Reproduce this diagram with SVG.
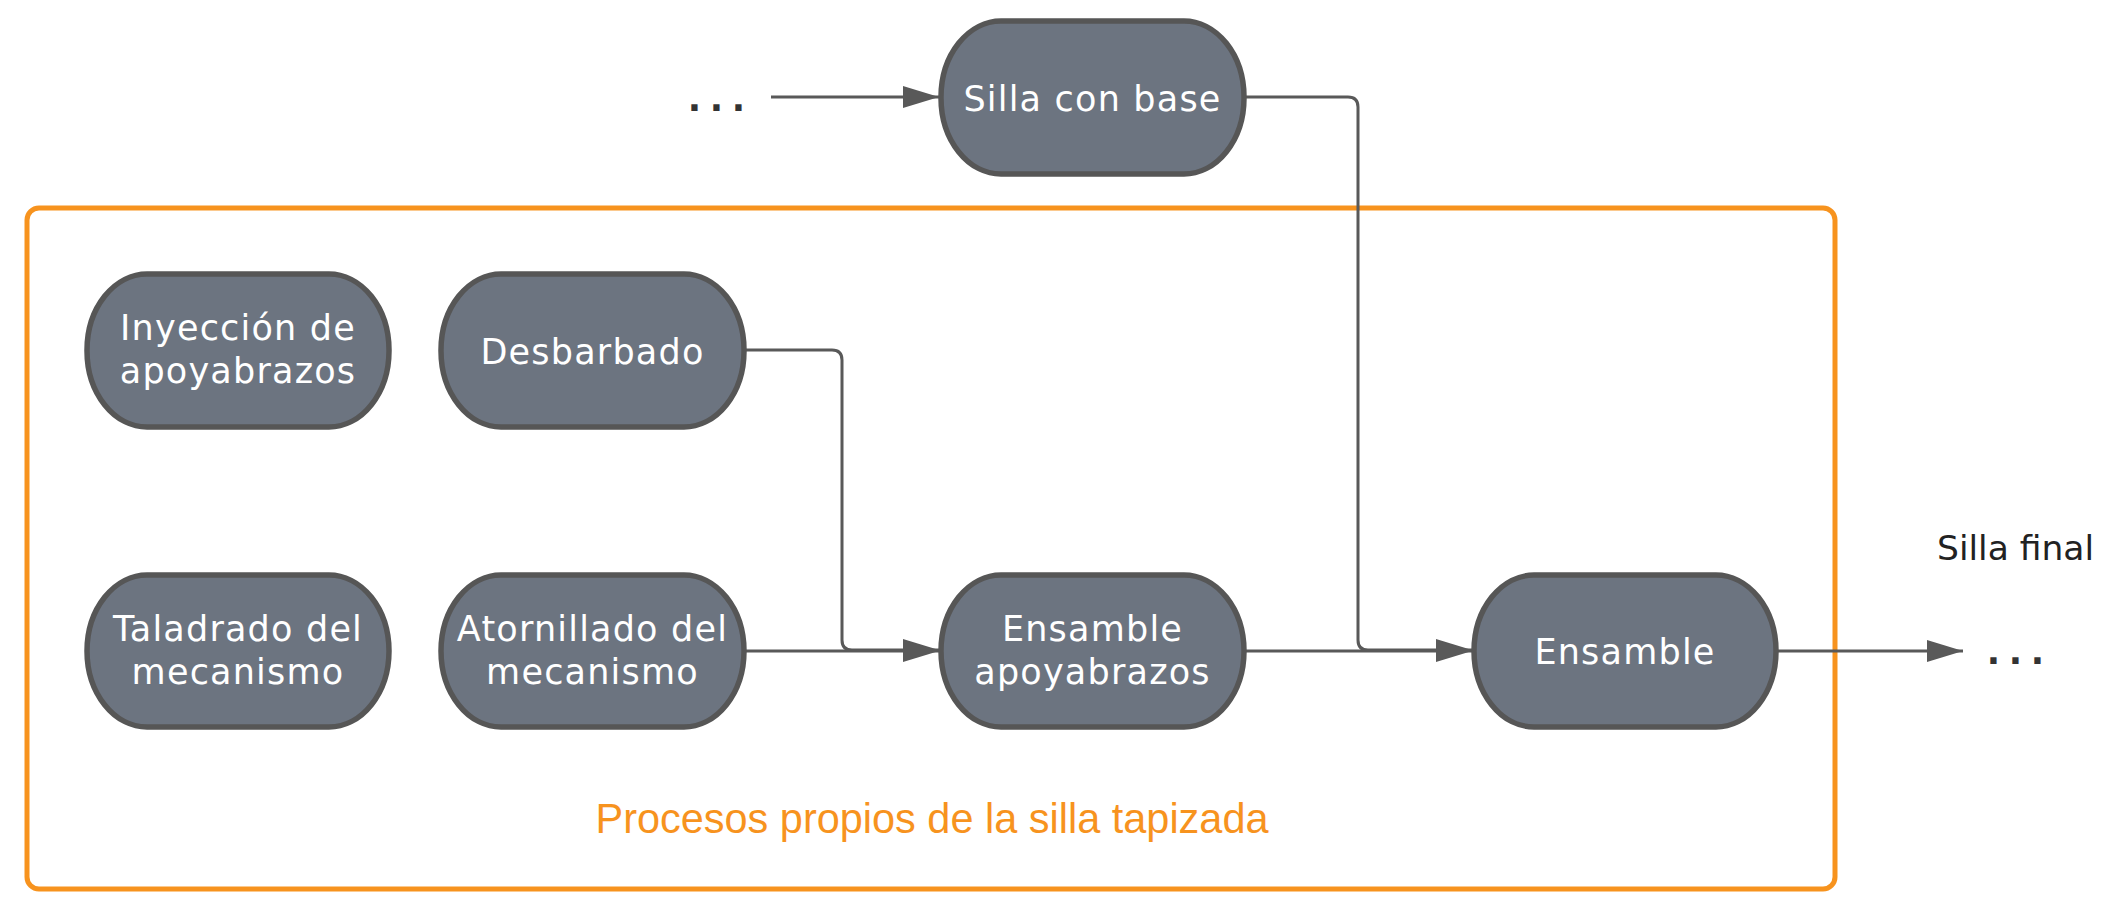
<svg xmlns="http://www.w3.org/2000/svg" width="2102" height="900" viewBox="0 0 2102 900">
<style>
.node rect{fill:#6c7480;stroke:#565656;stroke-width:5.5}
.node text{fill:#ffffff;font-family:"DejaVu Sans",sans-serif;font-size:35px;letter-spacing:1.2px;text-anchor:middle}
.conn{fill:none;stroke:#595959;stroke-width:3}
.dots{fill:#333333;font-family:"DejaVu Sans Mono",monospace;font-size:38px;font-weight:bold;letter-spacing:-0.9px}
</style>
<defs>
<marker id="arr" markerUnits="userSpaceOnUse" markerWidth="36" markerHeight="22" refX="36" refY="11" orient="auto">
<path d="M0,0 L36,11 L0,22 Z" fill="#595959"/>
</marker>
</defs>
<rect id="container" x="27" y="208" width="1808" height="681" rx="12" fill="none" stroke="#f7931e" stroke-width="5"/>
<text x="932" y="833" fill="#f7931e" font-family="Liberation Sans, Arial, sans-serif" font-size="43" text-anchor="middle" textLength="673" lengthAdjust="spacingAndGlyphs">Procesos propios de la silla tapizada</text>
<g id="connectors">
<path class="conn" d="M771,97 L939,97" marker-end="url(#arr)"/>
<path class="conn" d="M1244,97 L1348,97 Q1358,97 1358,107 L1358,640 Q1358,650 1368,650 L1472,650" marker-end="url(#arr)"/>
<path class="conn" d="M744,350 L832,350 Q842,350 842,360 L842,640 Q842,650 852,650 L939,650" marker-end="url(#arr)"/>
<path class="conn" d="M744,651 L939,651" marker-end="url(#arr)"/>
<path class="conn" d="M1244,651 L1472,651" marker-end="url(#arr)"/>
<path class="conn" d="M1776,651 L1963,651" marker-end="url(#arr)"/>
</g>
<text class="dots" x="683" y="111">...</text>
<text class="dots" x="1982" y="664">...</text>
<text x="1937" y="560" fill="#222222" font-family="DejaVu Sans, sans-serif" font-size="34.5">Silla final</text>
<g id="n-silla-base" class="node">
<rect x="941" y="21" width="303" height="153" rx="60" ry="76"/>
<text x="1092.5" y="111">Silla con base</text>
</g>
<g id="n-inyeccion" class="node">
<rect x="87" y="274" width="302" height="153" rx="60" ry="76"/>
<text x="238" y="340">Inyección de</text>
<text x="238" y="383">apoyabrazos</text>
</g>
<g id="n-desbarbado" class="node">
<rect x="441" y="274" width="303" height="153" rx="60" ry="76"/>
<text x="592.5" y="364">Desbarbado</text>
</g>
<g id="n-taladrado" class="node">
<rect x="87" y="575" width="302" height="152" rx="60" ry="76"/>
<text x="238" y="641">Taladrado del</text>
<text x="238" y="684">mecanismo</text>
</g>
<g id="n-atornillado" class="node">
<rect x="441" y="575" width="303" height="152" rx="60" ry="76"/>
<text x="592.5" y="641">Atornillado del</text>
<text x="592.5" y="684">mecanismo</text>
</g>
<g id="n-ensamble-apoya" class="node">
<rect x="941" y="575" width="303" height="152" rx="60" ry="76"/>
<text x="1092.5" y="641">Ensamble</text>
<text x="1092.5" y="684">apoyabrazos</text>
</g>
<g id="n-ensamble" class="node">
<rect x="1474" y="575" width="302" height="152" rx="60" ry="76"/>
<text x="1625" y="664">Ensamble</text>
</g>
</svg>
